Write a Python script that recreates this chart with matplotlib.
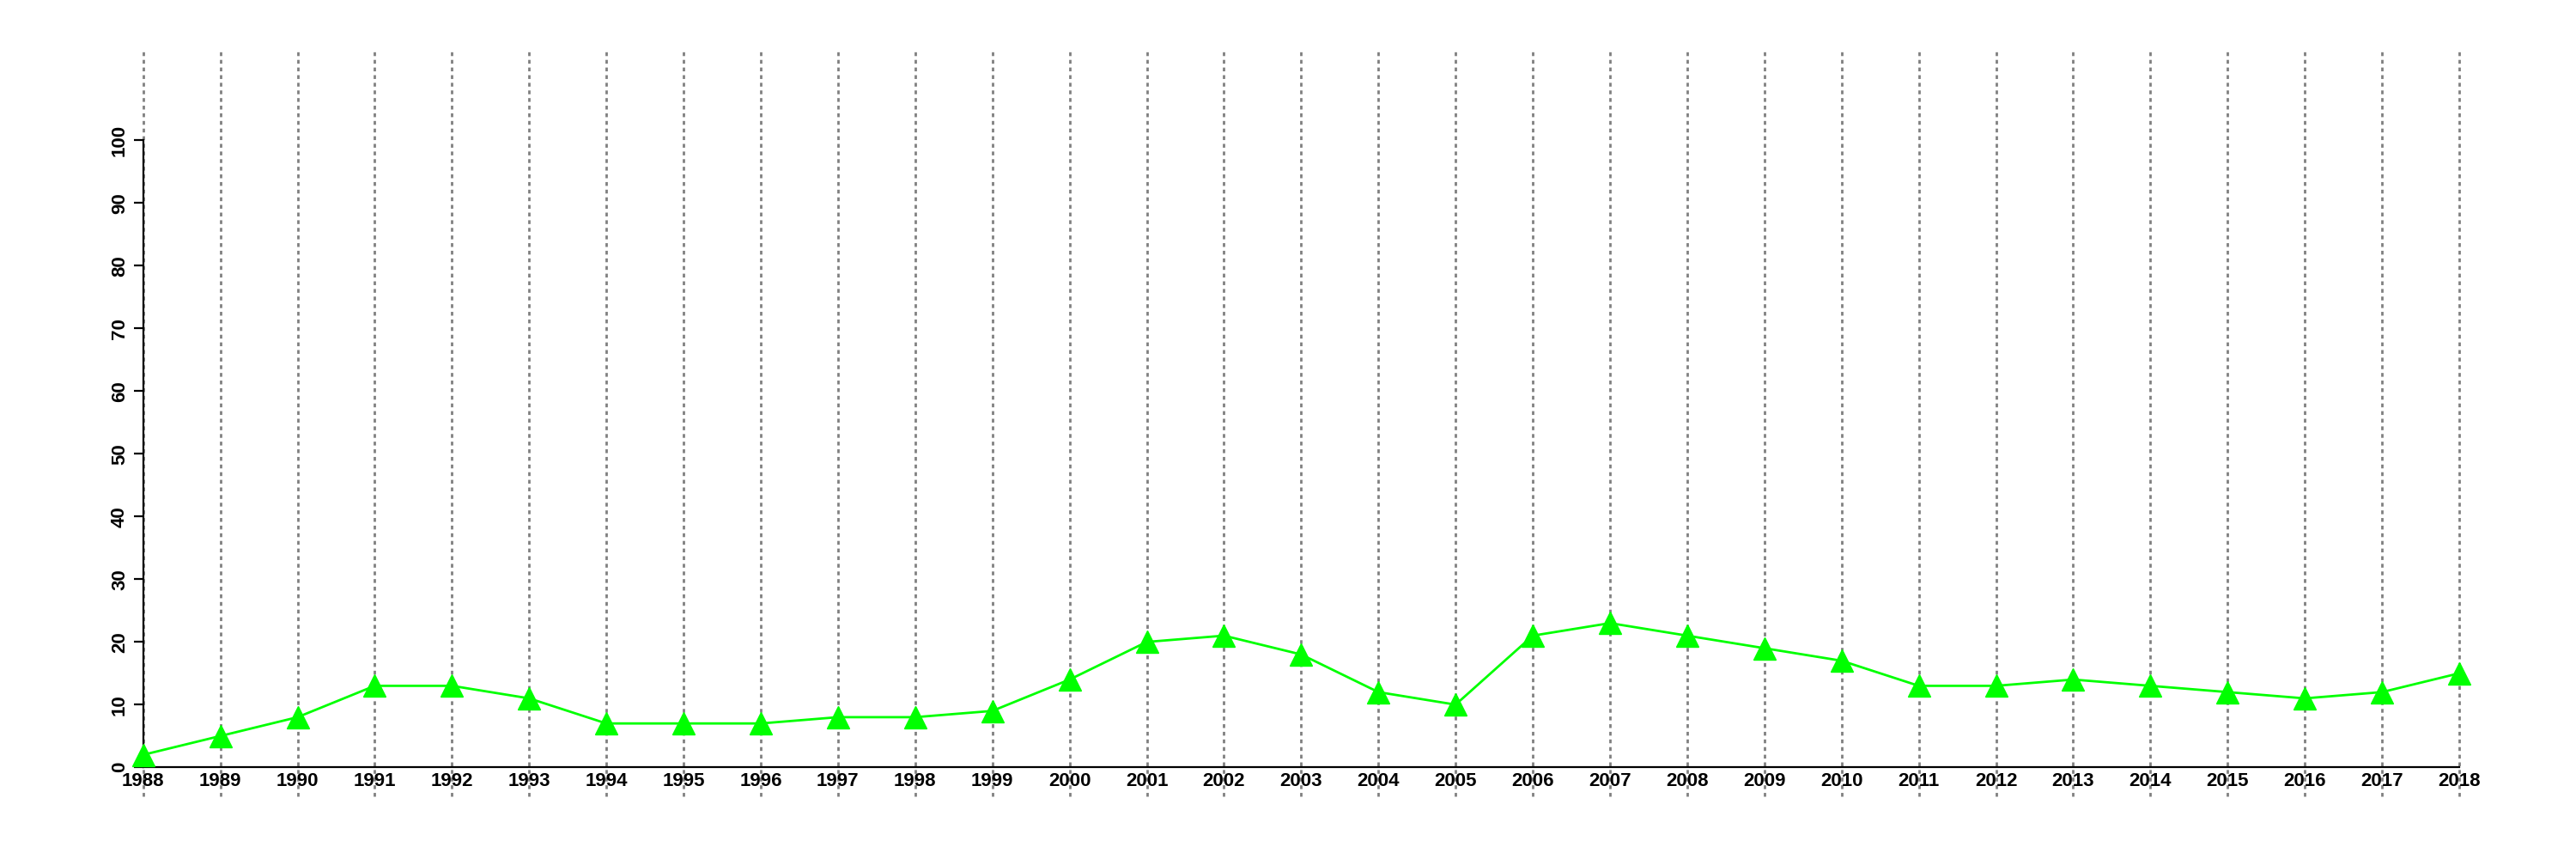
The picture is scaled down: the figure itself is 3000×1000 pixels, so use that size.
import matplotlib
matplotlib.use("Agg")
import matplotlib.pyplot as plt

# Yearly series, one triangle per year.
years = list(range(1988, 2019))
values = [2, 5, 8, 13, 13, 11, 7, 7, 7, 8, 8, 9, 14, 20, 21, 18,
          12, 10, 21, 23, 21, 19, 17, 13, 13, 14, 13, 12, 11, 12, 15]
y_ticks = [0, 10, 20, 30, 40, 50, 60, 70, 80, 90, 100]

plt.rcParams["font.family"] = ["Liberation Sans", "DejaVu Sans"]
plt.rcParams["font.weight"] = "bold"

fig = plt.figure(figsize=(30, 10), dpi=100)
ax = fig.add_axes([166.7 / 3000, 1 - 893.3 / 1000,
                   (2864 - 166.7) / 3000, (893.3 - 163.3) / 1000])

ax.set_xlim(years[0], years[-1])
ax.set_ylim(0, 100)

# dotted year lines running past the plot box
ax.vlines(years, -4.6, 114.1, colors="#808080", linestyles=(0, (1.6, 1.6)),
          linewidth=2, clip_on=False, zorder=1)

ax.plot(years, values, color="#00ff00", linewidth=2, marker="^",
        markersize=19, markerfacecolor="#00ff00", markeredgecolor="#00ff00",
        clip_on=False, zorder=3)

for side in ["top", "right"]:
    ax.spines[side].set_visible(False)
ax.spines["left"].set_bounds(0, 100)
ax.spines["bottom"].set_bounds(years[0], years[-1])
ax.spines["left"].set_linewidth(1.6)
ax.spines["bottom"].set_linewidth(1.6)

ax.set_xticks(years)
ax.set_xticklabels([str(y) for y in years], fontsize=16, fontweight="bold")
ax.tick_params(axis="x", length=0, pad=4)

ax.set_yticks(y_ticks)
ax.set_yticklabels([str(v) for v in y_ticks], fontsize=16,
                   fontweight="bold", rotation=90, va="center")
ax.tick_params(axis="y", length=8, width=1.6, pad=4)

fig.savefig("out.png", dpi=100, facecolor="white")
